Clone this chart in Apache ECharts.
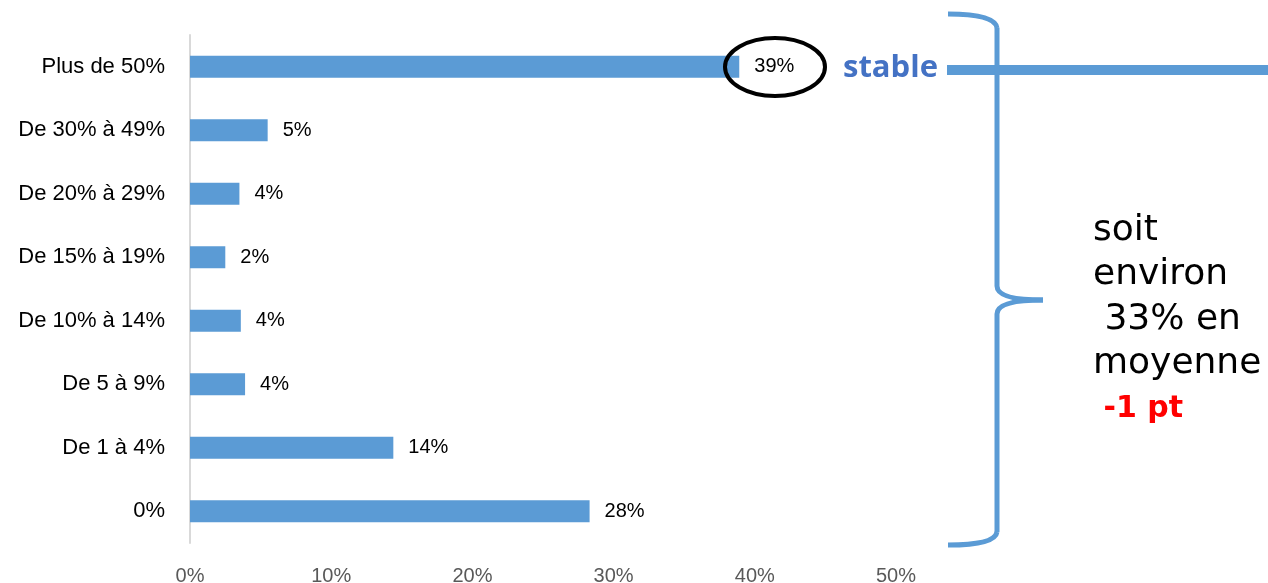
<!DOCTYPE html>
<html><head><meta charset="utf-8">
<script src="https://cdn.jsdelivr.net/npm/echarts@6/dist/echarts.min.js"></script>
<style>html,body{margin:0;padding:0;background:#fff}#c{width:1268px;height:583px}</style>
</head><body><div id="c"></div>
<script>
const categories = ['Plus de 50%', 'De 30% à 49%', 'De 20% à 29%', 'De 15% à 19%', 'De 10% à 14%', 'De 5 à 9%', 'De 1 à 4%', '0%'];
const values = [38.9, 5.5, 3.5, 2.5, 3.6, 3.9, 14.4, 28.3];
const valueLabels = ['39%', '5%', '4%', '2%', '4%', '4%', '14%', '28%'];
const xTicks = [0, 10, 20, 30, 40, 50];
const noteLines = ['soit', 'environ', ' 33% en', 'moyenne'];
const noteDelta = ' -1 pt';
const stableText = 'stable';

const chart = echarts.init(document.getElementById('c'), null, {renderer: 'canvas'});
const blue = '#5B9BD5';
const braceStyle = {fill: 'none', stroke: blue, lineWidth: 5};
const noteY = [231, 275, 320, 364];
const noteGraphics = noteLines.map((t, i) => ({
  type: 'text', x: 1093, y: noteY[i], z: 10,
  style: {text: t, fill: '#000', font: '36px "DejaVu Sans", sans-serif', verticalAlign: 'middle'}
}));
chart.setOption({
  animation: false,
  grid: {left: 190, right: 372, top: 35, bottom: 40, containLabel: false, outerBoundsMode: 'none'},
  xAxis: {
    type: 'value', min: xTicks[0], max: xTicks[xTicks.length - 1], interval: xTicks[1] - xTicks[0],
    axisLine: {show: false}, axisTick: {show: false}, splitLine: {show: false},
    axisLabel: {formatter: v => v + '%', color: '#595959', fontSize: 20, fontFamily: 'Liberation Sans', margin: 23}
  },
  yAxis: {
    type: 'category', data: categories, inverse: true,
    axisLine: {show: true, lineStyle: {color: '#d9d9d9', width: 2}},
    axisTick: {show: false},
    axisLabel: {color: '#000', fontSize: 22, fontFamily: 'Liberation Sans', margin: 25}
  },
  series: [{
    type: 'bar', data: values, barWidth: 22,
    itemStyle: {color: blue},
    label: {show: true, position: 'right', distance: 15, color: '#000', fontSize: 20,
      fontFamily: 'Liberation Sans',
      formatter: p => valueLabels[p.dataIndex]}
  }],
  graphic: [
    {type: 'ellipse', shape: {cx: 775, cy: 67, rx: 50, ry: 29}, style: {fill: 'none', stroke: '#000', lineWidth: 4}, z: 10},
    {type: 'text', x: 843, y: 68, style: {text: stableText, fill: '#4472C4', font: 'bold 31px "Open Sans", sans-serif', verticalAlign: 'middle'}, z: 10},
    {type: 'line', shape: {x1: 947, y1: 70, x2: 1268, y2: 70}, style: {stroke: blue, lineWidth: 10}, z: 10},
    {type: 'bezierCurve', shape: {x1: 948, y1: 14, cpx1: 995, cpy1: 14, x2: 997, y2: 28}, style: braceStyle, z: 10},
    {type: 'line', shape: {x1: 997, y1: 28, x2: 997, y2: 286}, style: braceStyle, z: 10},
    {type: 'bezierCurve', shape: {x1: 997, y1: 286, cpx1: 997, cpy1: 300, x2: 1043, y2: 300}, style: braceStyle, z: 10},
    {type: 'bezierCurve', shape: {x1: 1043, y1: 300, cpx1: 997, cpy1: 300, x2: 997, y2: 314}, style: braceStyle, z: 10},
    {type: 'line', shape: {x1: 997, y1: 314, x2: 997, y2: 532}, style: braceStyle, z: 10},
    {type: 'bezierCurve', shape: {x1: 997, y1: 532, cpx1: 995, cpy1: 545, x2: 948, y2: 545}, style: braceStyle, z: 10},
    ...noteGraphics,
    {type: 'text', x: 1093, y: 409, style: {text: noteDelta, fill: '#ff0000', font: 'bold 30px "DejaVu Sans", sans-serif', verticalAlign: 'middle'}, z: 10}
  ]
});
</script></body></html>
